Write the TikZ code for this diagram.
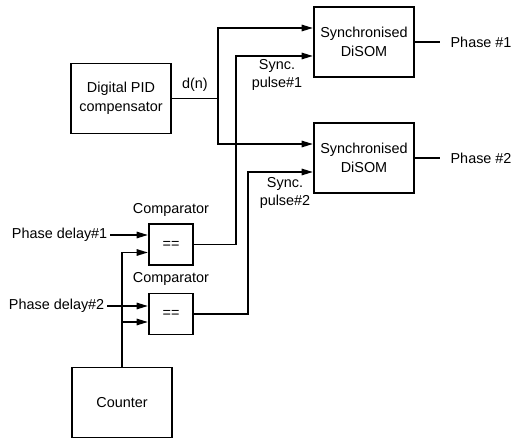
\documentclass[tikz,border=0pt]{standalone}
\usepackage{fontspec}
\setmainfont{Liberation Sans}
\usetikzlibrary{arrows.meta}

\begin{document}
\begin{tikzpicture}[x=0.02cm,y=-0.02cm,line width=1.1pt,
  font=\fontsize{8.2}{10.6}\selectfont,
  block/.style={draw,minimum width=2cm,minimum height=1.4cm,align=center},
  cmpbox/.style={draw,minimum width=0.88cm,minimum height=0.82cm},
  >={Triangle[length=6.5pt,width=3.6pt]}]
  \useasboundingbox (0,0) rectangle (521,439);
  % blocks
  \node[block] (pid) at (121,98.5) {Digital PID\\compensator};
  \node[block] (som1) at (364,42) {Synchronised\\DiSOM};
  \node[block] (som2) at (364,158) {Synchronised\\DiSOM};
  \node[cmpbox] (cmp1) at (171,244.5) {==};
  \node[cmpbox] (cmp2) at (171,314) {==};
  \node[block] (counter) at (122,402.5) {Counter};
  \node[above] (cmp1lbl) at (cmp1.north) {Comparator};
  \node[above] (cmp2lbl) at (cmp2.north) {Comparator};
  % inputs and outputs
  \node[anchor=east,inner sep=1pt] (pd1) at (110,235) {Phase delay\#1};
  \node[anchor=east,inner sep=1pt] (pd2) at (107,306) {Phase delay\#2};
  \node[anchor=west,inner xsep=5.5pt] (ph1) at (440,42) {Phase \#1};
  \node[anchor=west,inner xsep=5.5pt] (ph2) at (440,158) {Phase \#2};
  \node[align=center] (sp1lbl) at (277,75) {Sync.\\pulse\#1};
  \node[align=center] (sp2lbl) at (285,193) {Sync.\\pulse\#2};
  % d(n) to both DiSOMs
  \coordinate (dn) at (218,98.5);
  \draw (pid.east) -- node[above] (dnlbl) {d(n)} (dn);
  \draw[->] (dn) |- ([yshift=0.28cm]som1.west);
  \draw[->] (dn) |- ([yshift=0.28cm]som2.west);
  \draw (som1.east) -- (ph1.west);
  \draw (som2.east) -- (ph2.west);
  % sync pulses
  \draw[->] (cmp1.east) -- ++(42,0) |- ([yshift=-0.28cm]som1.west);
  \draw[->] (cmp2.east) -- ++(54,0) |- ([yshift=-0.28cm]som2.west);
  % comparator inputs
  \draw[->] (pd1.east) -- (pd1.east -| cmp1.west);
  \draw[->] (pd2.east) -- (pd2.east -| cmp2.west);
  \coordinate (cin2) at ([yshift=-0.16cm]cmp2.west);
  \draw[->] (counter.north) |- ([yshift=-0.16cm]cmp1.west);
  \draw[->] (counter.north |- cin2) -- (cin2);
\end{tikzpicture}
\end{document}
